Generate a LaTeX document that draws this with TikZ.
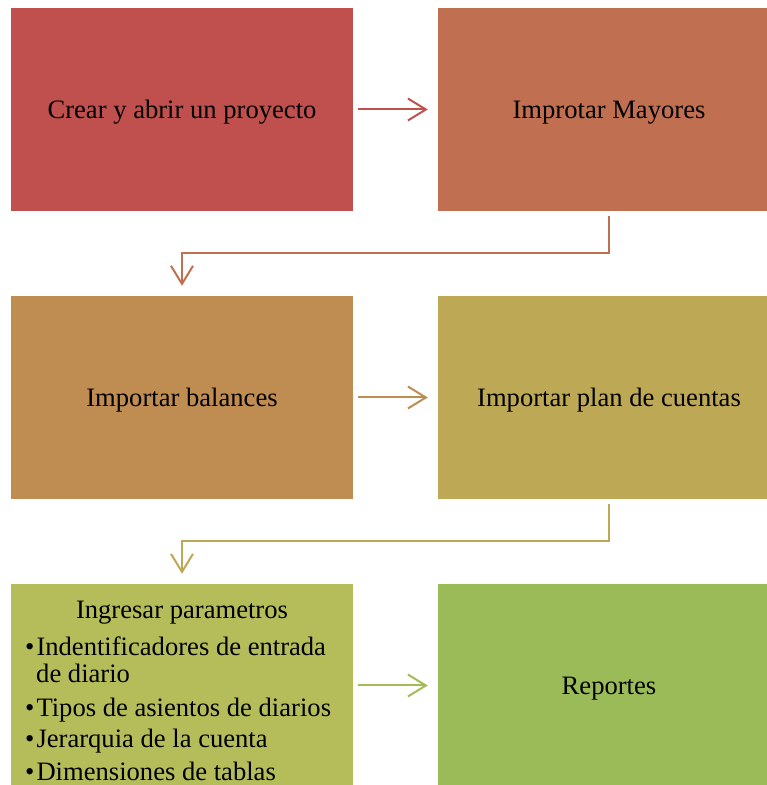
\documentclass[tikz,border=0pt]{standalone}
\usepackage{fontspec}
\setmainfont{Liberation Serif}
\usetikzlibrary{arrows.meta}

\definecolor{rojo}{HTML}{C0504D}
\definecolor{teja}{HTML}{C07050}
\definecolor{ocre}{HTML}{BF8C52}
\definecolor{caqui}{HTML}{BDA955}
\definecolor{oliva}{HTML}{B5BD5A}
\definecolor{verde}{HTML}{9BBB59}

\tikzset{
	caja/.style={draw=none, minimum width=342pt, minimum height=203pt, inner sep=0pt,
		text depth=0pt, font=\fontsize{26.6}{30}\selectfont, text=black},
	texto/.style={anchor=base west, inner sep=0pt, font=\fontsize{26.6}{30}\selectfont},
	flecha/.style={line width=2pt, -{Straight Barb[length=18pt,width=22pt,line width=2pt]}}
}

\begin{document}
\begin{tikzpicture}[x=1pt,y=1pt]
		\useasboundingbox (0,0) rectangle (767,785);
		
		% fila 1
		\node[caja, fill=rojo] (crear) at (182,675.5) {Crear y abrir un proyecto};
		\node[caja, fill=teja] (mayores) at (609,675.5) {Improtar Mayores};
		
		% fila 2
		\node[caja, fill=ocre] (balances) at (182,387.5) {Importar balances};
		\node[caja, fill=caqui] (plan) at (609,387.5) {Importar plan de cuentas};
		
		% fila 3
		\node[caja, fill=oliva] (param) at (182,99.5) {};
		\node[caja, fill=verde] (reportes) at (609,99.5) {Reportes};
		
		\node[texto, anchor=base] (paramtit) at (182,166) {Ingresar parametros};
		\node[texto] (item1) at (25,129) {\textbullet\hspace{2pt}Indentificadores de entrada};
		\node[texto] (item1b) at (36,102) {de diario};
		\node[texto] (item2) at (25,68) {\textbullet\hspace{2pt}Tipos de asientos de diarios};
		\node[texto] (item3) at (25,37) {\textbullet\hspace{2pt}Jerarquia de la cuenta};
		\node[texto] (item4) at (25,5) {\textbullet\hspace{2pt}Dimensiones de tablas};
		
		% flechas
		\draw[flecha, rojo] ([xshift=5pt]crear.east) -- ([xshift=-10pt]mayores.west);
		\draw[flecha, teja] ([yshift=-5pt]mayores.south) -- ++(0,-37) -| ([yshift=10pt]balances.north);
		\draw[flecha, ocre] ([xshift=5pt]balances.east) -- ([xshift=-10pt]plan.west);
		\draw[flecha, caqui] ([yshift=-5pt]plan.south) -- ++(0,-37) -| ([yshift=10pt]param.north);
		\draw[flecha, verde!70!oliva] ([xshift=5pt]param.east) -- ([xshift=-10pt]reportes.west);
		
	\end{tikzpicture}
\end{document}
